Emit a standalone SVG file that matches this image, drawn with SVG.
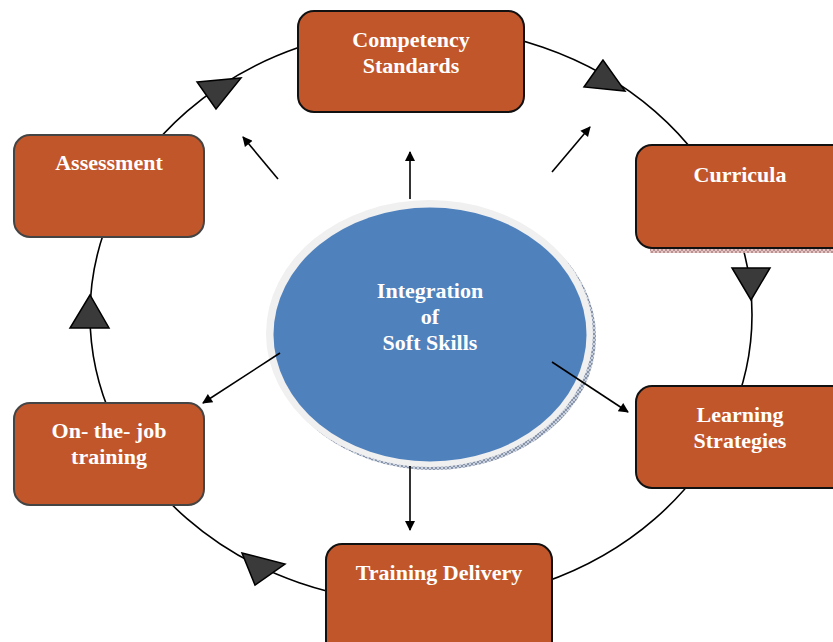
<svg xmlns="http://www.w3.org/2000/svg" width="833" height="642" viewBox="0 0 833 642">
<defs>
<style>
.box{fill:#C1562B;stroke:#111;stroke-width:2}
.boxg{fill:#C1562B;stroke:#444;stroke-width:2}
.lbl{font-family:"Liberation Serif","Times New Roman",serif;font-weight:bold;font-size:22px;fill:#fff;text-anchor:middle}
.tri{fill:#3a3a3a;stroke:#000;stroke-width:1.5;stroke-linejoin:miter}
.ray{stroke:#000;stroke-width:1.6;fill:none;marker-end:url(#ah)}
</style>
<marker id="ah" viewBox="0 0 10 10" refX="9" refY="5" markerWidth="12" markerHeight="10" markerUnits="userSpaceOnUse" orient="auto">
<path d="M0,0 L10,5 L0,10 z" fill="#000"/>
</marker>
<pattern id="hatchR" width="4" height="4" patternUnits="userSpaceOnUse">
<rect width="4" height="4" fill="#e6c4c4"/>
<path d="M0,0 L4,4 M4,0 L0,4" stroke="#9a7070" stroke-width="0.6"/>
</pattern>
<pattern id="hatchB" width="4" height="4" patternUnits="userSpaceOnUse">
<rect width="4" height="4" fill="#c9d1df"/>
<path d="M0,0 L4,4 M4,0 L0,4" stroke="#5a6a85" stroke-width="0.6"/>
</pattern>
</defs>
<rect width="833" height="642" fill="#fff"/>
<g id="center">
<ellipse cx="433" cy="337" rx="163" ry="133" fill="url(#hatchB)"/>
<ellipse cx="429.5" cy="333.5" rx="163.5" ry="133.5" fill="#f0f0f0"/>
<ellipse cx="430" cy="334.5" rx="156.5" ry="127" fill="#4F81BD"/>
<text class="lbl" x="430" y="298">Integration</text>
<text class="lbl" x="430" y="324">of</text>
<text class="lbl" x="430" y="350">Soft Skills</text>
</g>
<g id="connectors">
<ellipse cx="421" cy="315" rx="331" ry="288" fill="none" stroke="#000" stroke-width="1.6"/>
<line class="ray" x1="410" y1="199" x2="410" y2="152"/>
<line class="ray" x1="278" y1="179" x2="243" y2="137"/>
<line class="ray" x1="552" y1="172" x2="590" y2="127"/>
<line class="ray" x1="280" y1="353" x2="203" y2="403"/>
<line class="ray" x1="552" y1="362" x2="628" y2="412"/>
<line class="ray" x1="410" y1="466" x2="410" y2="530"/>
<polygon class="tri" points="197,82 241,78 216,109"/>
<polygon class="tri" points="603,60 584,87 625,91"/>
<polygon class="tri" points="732,268 770,268 751,300"/>
<polygon class="tri" points="242,553 285,564 255,585"/>
<polygon class="tri" points="90,295 70,328 109,328"/>
</g>
<g id="competency">
<rect class="box" x="298" y="11" width="226" height="101" rx="16"/>
<text class="lbl" x="411" y="47">Competency</text>
<text class="lbl" x="411" y="73">Standards</text>
</g>
<g id="curricula">
<rect x="650" y="248" width="200" height="5" fill="url(#hatchR)"/>
<rect class="box" x="636" y="145" width="215" height="103" rx="16"/>
<text class="lbl" x="740" y="182">Curricula</text>
</g>
<g id="learning">
<rect class="box" x="636" y="386" width="215" height="102" rx="16"/>
<text class="lbl" x="740" y="422">Learning</text>
<text class="lbl" x="740" y="448">Strategies</text>
</g>
<g id="training-delivery">
<rect class="box" x="326" y="544" width="226" height="120" rx="16"/>
<text class="lbl" x="439" y="580">Training Delivery</text>
</g>
<g id="ojt">
<rect class="boxg" x="14" y="403" width="190" height="102" rx="16"/>
<text class="lbl" x="109" y="438">On- the- job</text>
<text class="lbl" x="109" y="464">training</text>
</g>
<g id="assessment">
<rect class="boxg" x="14" y="135" width="190" height="102" rx="16"/>
<text class="lbl" x="109" y="170">Assessment</text>
</g>
</svg>
